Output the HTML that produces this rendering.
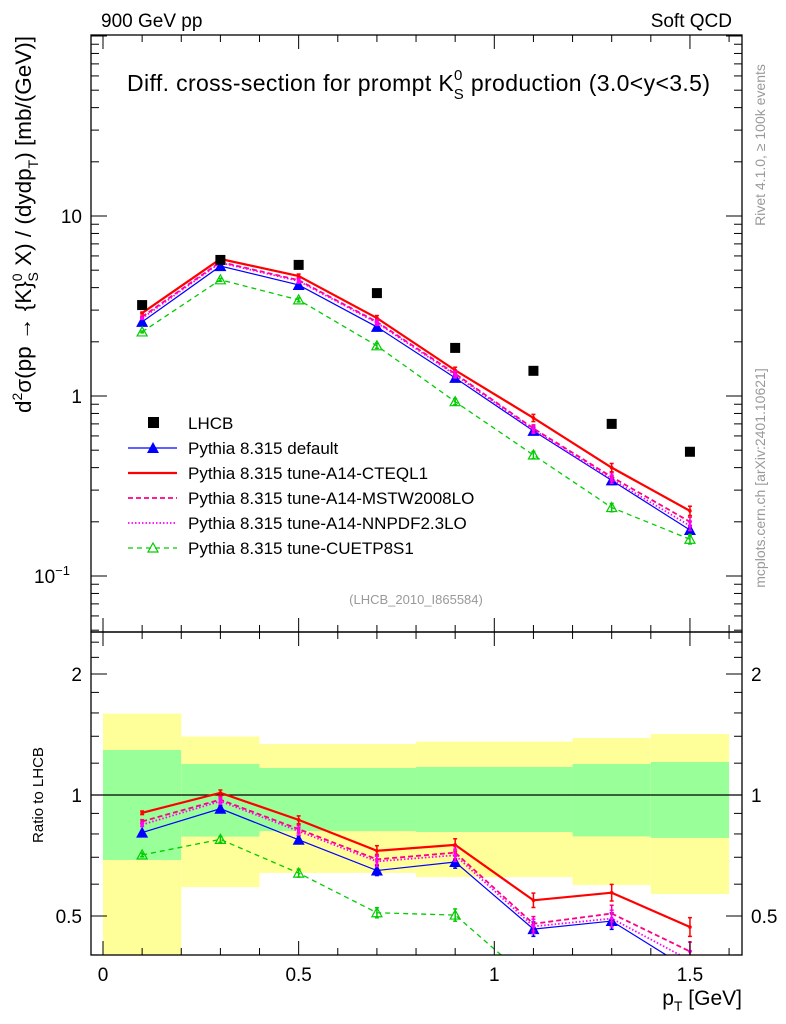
<!DOCTYPE html>
<html><head><meta charset="utf-8"><style>
body{margin:0;background:#fff}
svg{display:block;font-family:"Liberation Sans",Arial,sans-serif}
</style></head><body>
<svg id="c" width="786" height="1024" viewBox="0 0 786 1024" xmlns="http://www.w3.org/2000/svg">
<g id="bands"></g>
<g id="marks"></g>
<g id="axes"></g>
<text x="101" y="27" font-size="19">900 GeV pp</text>
<text x="732" y="27" font-size="19" text-anchor="end">Soft QCD</text>
<text x="127" y="91" font-size="23" textLength="583" lengthAdjust="spacing">Diff. cross-section for prompt K<tspan dy="-11" font-size="15">0</tspan><tspan dx="-9" dy="19" font-size="15">S</tspan><tspan dy="-8"> production (3.0&lt;y&lt;3.5)</tspan></text>
<text x="416" y="604" font-size="13" fill="#999" text-anchor="middle">(LHCB_2010_I865584)</text>
<text transform="translate(765,145) rotate(-90)" font-size="14" fill="#999" text-anchor="middle">Rivet 4.1.0, ≥ 100k events</text>
<text transform="translate(765,478) rotate(-90)" font-size="14" fill="#999" text-anchor="middle">mcplots.cern.ch [arXiv:2401.10621]</text>
<text transform="translate(31,36) rotate(-90)" font-size="22.5" text-anchor="end">d<tspan dy="-9" font-size="14">2</tspan><tspan dy="9">σ(pp → {K}</tspan><tspan dy="-9" font-size="14">0</tspan><tspan dx="-8" dy="16" font-size="14">S</tspan><tspan dy="-7"> X) / (dydp</tspan><tspan dy="7" font-size="14">T</tspan><tspan dy="-7">) [mb/(GeV)]</tspan></text>
<text transform="translate(43,795) rotate(-90)" font-size="15" text-anchor="middle">Ratio to LHCB</text>
<text x="742" y="1005" font-size="21" text-anchor="end">p<tspan dy="6" font-size="14">T</tspan><tspan dy="-6"> [GeV]</tspan></text>
<g id="legend"></g>
</svg>
<script>
const xs=[0.1,0.3,0.5,0.7,0.9,1.1,1.3,1.5];
const lhcb=[3.2,5.7,5.35,3.73,1.85,1.38,0.70,0.49];
const pDefault=[2.58,5.27,4.14,2.42,1.26,0.64,0.34,0.18];
const pCTEQ=[2.89,5.77,4.64,2.71,1.39,0.755,0.40,0.23];
const pMSTW=[2.75,5.55,4.4,2.58,1.33,0.66,0.355,0.20];
const pNNPDF=[2.7,5.5,4.35,2.55,1.31,0.65,0.345,0.19];
const pCUETP=[2.27,4.42,3.42,1.9,0.93,0.47,0.24,0.16];
const binEdges=[0,0.2,0.4,0.8,1.2,1.4,1.6];
const yellowHi=[1.594,1.398,1.339,1.358,1.386,1.418];
const greenHi=[1.294,1.194,1.167,1.174,1.194,1.208];
const greenLo=[0.689,0.788,0.813,0.809,0.789,0.782];
const yellowLo=[0.3,0.590,0.640,0.625,0.597,0.567];
const xTicks=[0,0.5,1,1.5];
const xTickLabels=["0","0.5","1","1.5"];
const ratioTicks=[0.5,1,2];
const ratioTickLabels=["0.5","1","2"];

const NS="http://www.w3.org/2000/svg";
const L=91,R=742,T1=35,B1=632,T2=632,B2=955;
const X=v=>103+v*391.3;
const Y=v=>396-180*Math.log10(v);
const YR=v=>795-121*Math.log2(v);
function el(t,a,p){const e=document.createElementNS(NS,t);for(const k in a)e.setAttribute(k,a[k]);(p||document.getElementById('marks')).appendChild(e);return e;}

const bg=document.getElementById('bands');
for(let i=0;i<binEdges.length-1;i++){
  const x1=X(binEdges[i]),x2=Math.min(X(binEdges[i+1]),R);
  const yb=Math.min(YR(yellowLo[i]),B2);
  const r=el('rect',{x:x1,y:YR(yellowHi[i]),width:x2-x1,height:yb-YR(yellowHi[i]),fill:'#ffff99'},bg);
  
  
  const g=el('rect',{x:x1,y:YR(greenHi[i]),width:x2-x1,height:YR(greenLo[i])-YR(greenHi[i]),fill:'#99ff99'},bg);
  
  
}
el('line',{x1:L,x2:R,y1:YR(1),y2:YR(1),stroke:'#000','stroke-width':1.2},bg);

const series=[
 {name:'default',v:pDefault,c:'#0000ff',w:1.2,d:'',m:'tri'},
 {name:'cteql1',v:pCTEQ,c:'#ff0000',w:2.2,d:'',m:'err'},
 {name:'mstw2008lo',v:pMSTW,c:'#ff0080',w:1.8,d:'5,3',m:'err'},
 {name:'nnpdf23lo',v:pNNPDF,c:'#ff00ff',w:1.8,d:'1.5,2',m:'err'},
 {name:'cuetp8s1',v:pCUETP,c:'#00cc00',w:1.3,d:'5,4',m:'otri'}
];
const mk=document.getElementById('marks');
const cp1=el('clipPath',{id:'cp1'},mk);el('rect',{x:L,y:T1,width:R-L,height:B1-T1},cp1);
const cp2=el('clipPath',{id:'cp2'},mk);el('rect',{x:L,y:T2,width:R-L,height:B2-T2},cp2);

function marker(x,y,s,g){
  if(s.m==='tri'){el('polygon',{points:`${x},${y-6} ${x-6},${y+5} ${x+6},${y+5}`,fill:s.c},g);}
  else if(s.m==='otri'){el('polygon',{points:`${x},${y-5} ${x-5},${y+4} ${x+5},${y+4}`,fill:'none',stroke:s.c,'stroke-width':1.2},g);}
  else{el('circle',{cx:x,cy:y,r:1.8,fill:s.c},g);}
}
function drawSet(vals,s,Yf,clip,suffix,es){
  const g=el('g',{'clip-path':`url(#${clip})`});
  
  
  el('polyline',{points:vals.map((v,i)=>X(xs[i])+','+Yf(v)).join(' '),fill:'none',stroke:s.c,'stroke-width':s.w,'stroke-dasharray':s.d},g);
  vals.forEach((v,i)=>{const x=X(xs[i]),y=Yf(v);const e=es*(1.5+i*0.9);
    el('line',{x1:x,x2:x,y1:y-e,y2:y+e,stroke:s.c,'stroke-width':1.5},g);
    el('line',{x1:x-2,x2:x+2,y1:y-e,y2:y-e,stroke:s.c,'stroke-width':1.5},g);
    el('line',{x1:x-2,x2:x+2,y1:y+e,y2:y+e,stroke:s.c,'stroke-width':1.5},g);
    marker(x,y,s,g);});
}
series.forEach(s=>{
  drawSet(s.v,s,Y,'cp1','',0.6);
  drawSet(s.v.map((v,i)=>v/lhcb[i]),s,YR,'cp2','-ratio',1.2);
});
xs.forEach((x,i)=>{const r=el('rect',{x:X(x)-5,y:Y(lhcb[i])-5,width:10,height:10,fill:'#000'});
  
  });

const ax=document.getElementById('axes');
const ln=(x1,y1,x2,y2,w)=>el('line',{x1,y1,x2,y2,stroke:'#000','stroke-width':w||1},ax);
const tx=(x,y,s,a,fs)=>{const t=el('text',{x,y,'font-size':fs||19,'text-anchor':a||'middle'},ax);t.textContent=s;return t;};
el('rect',{x:L,y:T1,width:R-L,height:B1-T1,fill:'none',stroke:'#000','stroke-width':1.3},ax);
el('rect',{x:L,y:T2,width:R-L,height:B2-T2,fill:'none',stroke:'#000','stroke-width':1.3},ax);
for(let k=0;k<=16;k++){const v=k/10,x=X(v);if(x>R)break;const big=(k%5===0);const len=big?14:7;
  ln(x,B1,x,B1-len);ln(x,T1,x,T1+len);ln(x,B2,x,B2-len);ln(x,T2,x,T2+len);}
xTicks.forEach((v,i)=>tx(X(v),981,xTickLabels[i]));
for(let d=-2;d<=2;d++)for(let m=1;m<10;m++){const v=m*Math.pow(10,d),y=Y(v);if(y<T1||y>B1)continue;const len=m===1?16:8;
  ln(L,y,L+len,y);ln(R,y,R-len,y);}
tx(82,223,'10','end');tx(82,403,'1','end');
const t=tx(70,583,'10','end');const sp=document.createElementNS(NS,'tspan');sp.setAttribute('dy','-8');sp.setAttribute('font-size','13');sp.textContent='−1';t.appendChild(sp);
[0.4,0.5,0.6,0.7,0.8,0.9,1,1.2,1.4,1.6,1.8,2,2.2,2.4].forEach(v=>{const y=YR(v);if(y<T2||y>B2)return;const big=[0.5,1,2].includes(v);const len=big?16:8;
  ln(L,y,L+len,y);ln(R,y,R-len,y);});
ratioTicks.forEach((v,i)=>{tx(82,YR(v)+7,ratioTickLabels[i],'end');tx(751,YR(v)+7,ratioTickLabels[i],'start');});

const lg=document.getElementById('legend');
const entries=[['LHCB',null],['Pythia 8.315 default',series[0]],['Pythia 8.315 tune-A14-CTEQL1',series[1]],['Pythia 8.315 tune-A14-MSTW2008LO',series[2]],['Pythia 8.315 tune-A14-NNPDF2.3LO',series[3]],['Pythia 8.315 tune-CUETP8S1',series[4]]];
entries.forEach((e,i)=>{const y=423+25*i;const g=el('g',{},lg);
  
  
  if(!e[1])el('rect',{x:148,y:y-6,width:11,height:11,fill:'#000'},g);
  else{const s=e[1];el('line',{x1:128,x2:177,y1:y,y2:y,stroke:s.c,'stroke-width':s.w,'stroke-dasharray':s.d},g);
    if(s.m==='tri'||s.m==='otri')marker(153,y,s,g);}
  const t=el('text',{x:188,y:y+6,'font-size':17},g);t.textContent=e[0];});
</script>
</body></html>
